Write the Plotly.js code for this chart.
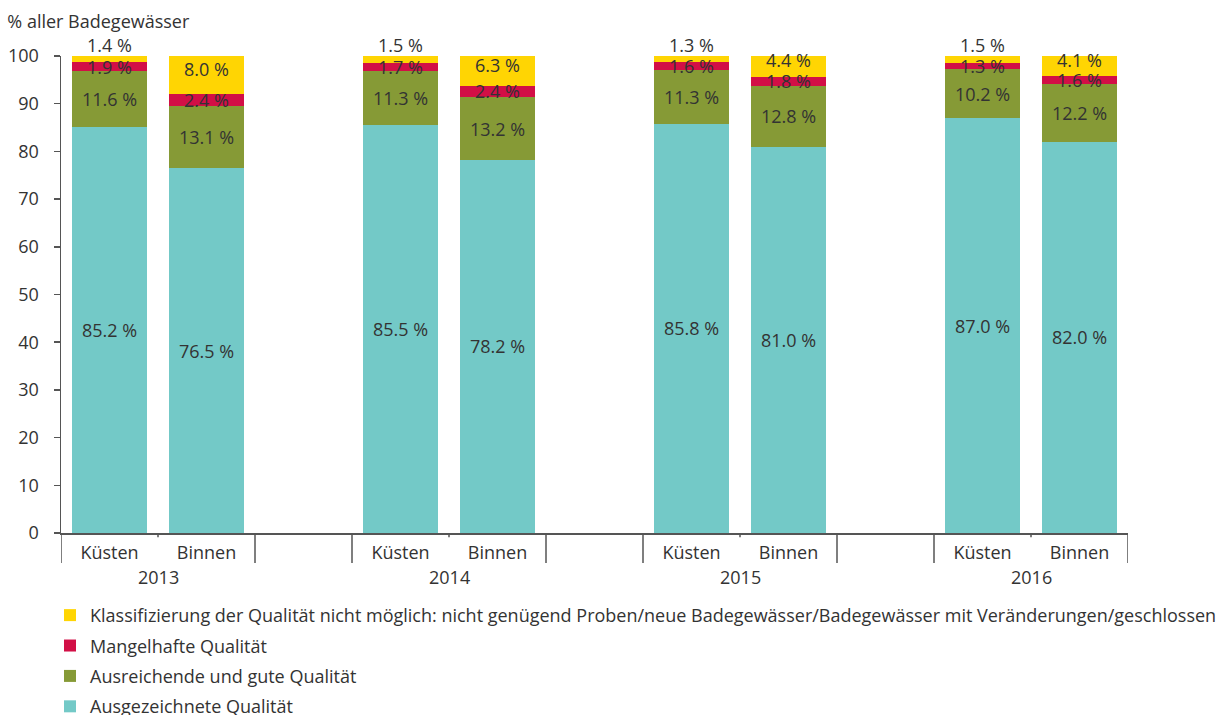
<!DOCTYPE html>
<html>
<head>
<meta charset="utf-8">
<script src="https://cdn.plot.ly/plotly-3.0.1.min.js"></script>
<style>html,body{margin:0;padding:0;background:#fff;}#chart{width:1222px;height:715px;}</style>
</head>
<body>
<div id="chart"></div>
<script>
const years = ['2013', '2014', '2015', '2016'];
const sites = ['Küsten', 'Binnen'];
const seriesNames = [
  'Ausgezeichnete Qualität',
  'Ausreichende und gute Qualität',
  'Mangelhafte Qualität',
  'Klassifizierung der Qualität nicht möglich: nicht genügend Proben/neue Badegewässer/Badegewässer mit Veränderungen/geschlossen'
];
const seriesColors = ['#73C9C7', '#869A36', '#D20F46', '#FFD503'];
// values per year, for Küsten and Binnen
const ausgezeichnetKuesten = [85.2, 85.5, 85.8, 87.0];
const ausgezeichnetBinnen  = [76.5, 78.2, 81.0, 82.0];
const ausreichendKuesten   = [11.6, 11.3, 11.3, 10.2];
const ausreichendBinnen    = [13.1, 13.2, 12.8, 12.2];
const mangelhaftKuesten    = [1.9, 1.7, 1.6, 1.3];
const mangelhaftBinnen     = [2.4, 2.4, 1.8, 1.6];
const nichtMoeglichKuesten = [1.4, 1.5, 1.3, 1.5];
const nichtMoeglichBinnen  = [8.0, 6.3, 4.4, 4.1];

const seriesK = [ausgezeichnetKuesten, ausreichendKuesten, mangelhaftKuesten, nichtMoeglichKuesten];
const seriesB = [ausgezeichnetBinnen, ausreichendBinnen, mangelhaftBinnen, nichtMoeglichBinnen];

const SLOT = 3; // each year uses two bars plus one empty slot
const xs = [], xsLabels = [];
years.forEach((y, i) => { sites.forEach((s, j) => { xs.push(i * SLOT + j); xsLabels.push(s); }); });

const fmt = v => v.toFixed(1) + ' %';
const font = {family: '"Open Sans", sans-serif', size: 18, color: '#333333'};
const lineColor = '#555555';
const Y_MAX = 100;

const seriesVals = seriesNames.map((name, k) => {
  const vals = [];
  years.forEach((y, i) => { vals.push(seriesK[k][i]); vals.push(seriesB[k][i]); });
  return vals;
});

const nSeries = seriesNames.length;
const traces = seriesNames.map((name, k) => ({
  type: 'bar', name: name, x: xs, y: seriesVals[k],
  marker: {color: seriesColors[k], line: {width: 0}},
  width: 0.78, legendgroup: 'g' + k, legendrank: nSeries - k, hoverinfo: 'none'
}));

const annotations = [];
// value labels, from the stacked data
xs.forEach((xv, idx) => {
  let base = 0;
  seriesVals.forEach((vals, k) => {
    const v = vals[idx];
    const isTop = (k === nSeries - 1);
    const isTopKuesten = isTop && (idx % 2 === 0);
    annotations.push({
      text: fmt(v), x: xv, xref: 'x',
      y: isTopKuesten ? Math.min(base + v, Y_MAX) : base + v / 2, yref: 'y',
      yanchor: isTopKuesten ? 'bottom' : 'middle',
      yshift: isTopKuesten ? -3 : (isTop ? 6 : 0),
      showarrow: false, font: font
    });
    base += v;
  });
});

const shapes = [];
years.forEach((y, i) => {
  const start = i * SLOT - 0.5, end = i * SLOT + 1.5, mid = i * SLOT + 0.5;
  [start, end].forEach(xv => shapes.push({type: 'line', xref: 'x', yref: 'paper', x0: xv, x1: xv, y0: 0, y1: -0.063, line: {color: lineColor, width: 1.5}}));
  shapes.push({type: 'line', xref: 'x', yref: 'paper', x0: mid, x1: mid, y0: 0, y1: -0.009, line: {color: lineColor, width: 1.5}});
  annotations.push({text: y, x: mid, xref: 'x', y: -0.092, yref: 'paper', showarrow: false, font: font, yanchor: 'middle'});
});

const layout = {
  width: 1222, height: 715,
  margin: {l: 61, r: 94, t: 56, b: 182, autoexpand: false},
  paper_bgcolor: '#ffffff', plot_bgcolor: '#ffffff',
  barmode: 'stack',
  font: font,
  title: {text: '% aller Badegewässer', x: 0.006, xref: 'container', xanchor: 'left', y: 0.969, yref: 'container', yanchor: 'middle', font: font},
  xaxis: {range: [-0.5, 10.5], tickvals: xs, ticktext: xsLabels, ticks: '', showline: true, linecolor: lineColor, linewidth: 1.5, showgrid: false, zeroline: false, tickfont: font, ticklabelstandoff: 3, fixedrange: true},
  yaxis: {range: [0, Y_MAX], tickvals: [0,10,20,30,40,50,60,70,80,90,100], ticks: 'outside', ticklen: 6, tickcolor: lineColor, tickwidth: 1.5, showline: true, linecolor: lineColor, linewidth: 1.5, showgrid: false, zeroline: false, tickfont: font, ticklabelstandoff: 11, fixedrange: true},
  showlegend: true,
  legend: {x: -0.0103, xanchor: 'left', y: -0.134, yanchor: 'top', orientation: 'v', traceorder: 'grouped', tracegroupgap: 4, font: font, bgcolor: 'rgba(0,0,0,0)'},
  shapes: shapes,
  annotations: annotations
};

Plotly.newPlot('chart', traces, layout, {displayModeBar: false, staticPlot: true});
</script>
</body>
</html>
